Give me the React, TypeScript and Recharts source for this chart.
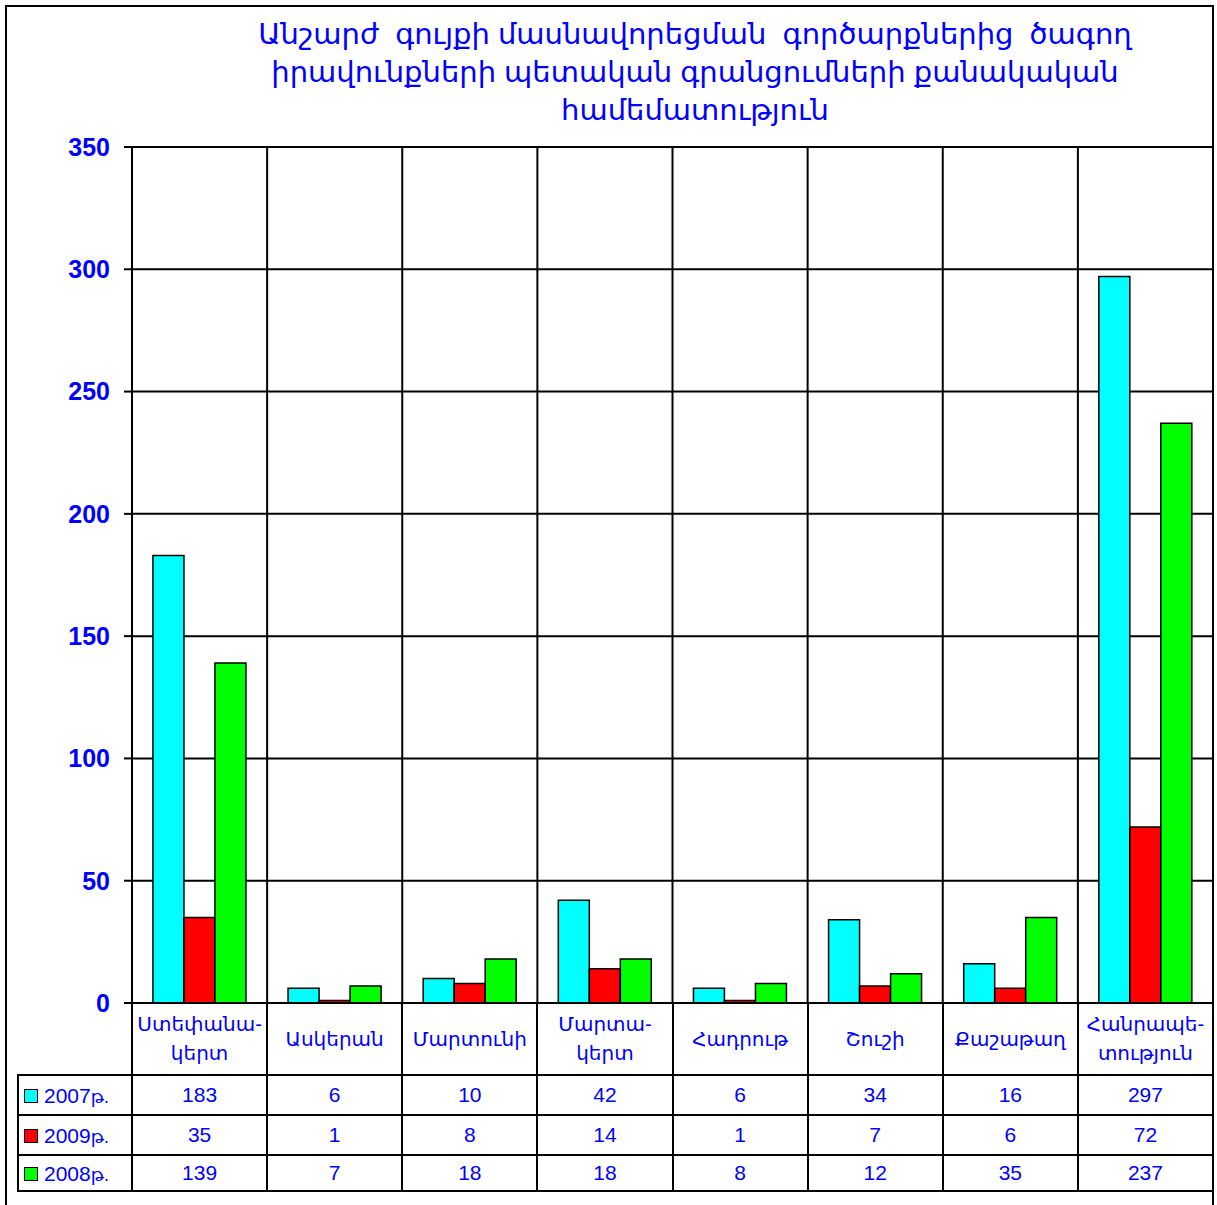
import { BarChart, Bar, XAxis, YAxis, CartesianGrid } from 'recharts';

const regions = [
  'Ստեփանա-\nկերտ',
  'Ասկերան',
  'Մարտունի',
  'Մարտա-\nկերտ',
  'Հադրութ',
  'Շուշի',
  'Քաշաթաղ',
  'Հանրապե-\nտություն',
];
const values2007 = [183, 6, 10, 42, 6, 34, 16, 297];
const values2009 = [35, 1, 8, 14, 1, 7, 6, 72];
const values2008 = [139, 7, 18, 18, 8, 12, 35, 237];
const yTicks = [0, 50, 100, 150, 200, 250, 300, 350];
const titleLines = [
  'Անշարժ  գույքի մասնավորեցման  գործարքներից  ծագող',
  'իրավունքների պետական գրանցումների քանակական',
  'համեմատություն',
];

const series = [
  { key: 'y2007', name: '2007', unit: 'թ.', color: '#00ffff', values: values2007 },
  { key: 'y2009', name: '2009', unit: 'թ.', color: '#ff0000', values: values2009 },
  { key: 'y2008', name: '2008', unit: 'թ.', color: '#00ff00', values: values2008 },
];

const data = regions.map((region, i) => ({
  region,
  y2007: values2007[i],
  y2009: values2009[i],
  y2008: values2008[i],
}));

const W = 1217;
const H = 1205;
const PLOT_LEFT = 132;
const PLOT_RIGHT = 1213;
const PLOT_TOP = 147;
const PLOT_BOTTOM = 1003;
const COL_W = (PLOT_RIGHT - PLOT_LEFT) / regions.length;
const BLUE = '#0000ff';
const FONT = '"Liberation Sans", Arial, "DejaVu Sans", sans-serif';

const cell = {
  border: '2px solid #000',
  textAlign: 'center' as const,
  padding: 0,
  color: BLUE,
  fontSize: 21,
};

export default function App() {
  return (
    <div
      style={{
        position: 'absolute',
        left: 0,
        top: 0,
        width: W,
        height: H,
        overflow: 'hidden',
        background: '#fff',
        fontFamily: FONT,
      }}
    >
      <div
        style={{
          position: 'absolute',
          left: 5,
          top: 5,
          width: 1209,
          height: 1300,
          border: '2px solid #000',
          boxSizing: 'border-box',
        }}
      />
      <div
        style={{
          position: 'absolute',
          top: 15,
          left: 695 - 520,
          width: 1040,
          textAlign: 'center',
          color: BLUE,
          fontSize: 29,
          lineHeight: '38px',
        }}
      >
        {titleLines.map((l) => (
          <div key={l} style={{ whiteSpace: 'pre' }}>
            {l}
          </div>
        ))}
      </div>

      <div style={{ position: 'absolute', left: 0, top: 0 }}>
        <BarChart
          width={W}
          height={H}
          data={data}
          margin={{ top: PLOT_TOP, right: W - PLOT_RIGHT, bottom: H - PLOT_BOTTOM, left: 0 }}
          barCategoryGap="15.5%"
          barGap={0}
        >
          <CartesianGrid
            stroke="#000"
            strokeWidth={2}
            verticalCoordinatesGenerator={({ offset }: any) =>
              regions.map((_, i) => offset.left + (i * offset.width) / regions.length)
            }
          />
          <XAxis dataKey="region" height={0} tick={false} tickLine={false} axisLine={{ stroke: '#000', strokeWidth: 3 }} />
          <YAxis
            width={PLOT_LEFT}
            domain={[0, 350]}
            ticks={yTicks}
            interval={0}
            tickSize={8}
            tickMargin={14}
            axisLine={{ stroke: '#000', strokeWidth: 2 }}
            tickLine={{ stroke: '#000', strokeWidth: 2 }}
            tick={{ fill: BLUE, fontSize: 25, fontWeight: 'bold', fontFamily: FONT }}
          />
          {series.map((s) => (
            <Bar
              key={s.key}
              dataKey={s.key}
              fill={s.color}
              stroke="#000"
              strokeWidth={1.5}
              isAnimationActive={false}
            />
          ))}
        </BarChart>
      </div>

      <table
        style={{
          position: 'absolute',
          left: 17,
          top: PLOT_BOTTOM - 1,
          width: PLOT_RIGHT - 17 + 1,
          borderCollapse: 'collapse',
          tableLayout: 'fixed',
          fontFamily: FONT,
        }}
      >
        <colgroup>
          <col style={{ width: PLOT_LEFT - 18 }} />
          {regions.map((r) => (
            <col key={r} style={{ width: COL_W }} />
          ))}
        </colgroup>
        <tbody>
          <tr style={{ height: 72 }}>
            <td style={{ border: 'none' }} />
            {regions.map((r) => (
              <td key={r} style={{ ...cell, fontSize: 20, lineHeight: '29px' }}>
                {r.split('\n').map((p) => (
                  <div key={p}>{p}</div>
                ))}
              </td>
            ))}
          </tr>
          {series.map((s, si) => (
            <tr key={s.key} style={{ height: si === 2 ? 36 : 40 }}>
              <td style={{ ...cell, textAlign: 'left', whiteSpace: 'nowrap' }}>
                <span
                  style={{
                    display: 'inline-block',
                    width: 12,
                    height: 12,
                    background: s.color,
                    border: '1.5px solid #000',
                    margin: '0 6px 0 5px',
                    verticalAlign: 'middle',
                  }}
                />
                <span style={{ verticalAlign: 'middle' }}>
                  {s.name}
                  <span style={{ fontSize: 18 }}>{s.unit}</span>
                </span>
              </td>
              {s.values.map((v, i) => (
                <td key={i} style={cell}>
                  {v}
                </td>
              ))}
            </tr>
          ))}
        </tbody>
      </table>
    </div>
  );
}
